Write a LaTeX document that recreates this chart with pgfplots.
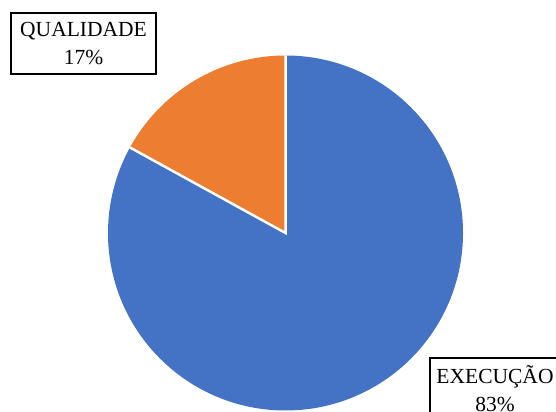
\documentclass[border=0pt]{standalone}
\usepackage{pgfplots}
\pgfplotsset{compat=1.18}
\usepackage{fontspec}
\setmainfont{Liberation Serif}
\definecolor{pieblue}{HTML}{4472C4}
\definecolor{pieorange}{HTML}{ED7D31}
% data (percent)
\def\valE{83}
\def\valQ{17}
\pgfmathsetmacro{\angE}{90-3.6*\valE}
\pgfmathsetmacro{\angQ}{90+3.6*\valQ}
\def\cx{285.5}
\def\cy{179}
\def\rr{177.5}
\begin{document}
\begin{tikzpicture}
\useasboundingbox (0,0) rectangle (556bp,412bp);
\clip (0,0) rectangle (556bp,412bp);
\begin{axis}[at={(0,0)},anchor=south west,scale only axis,
  width=556bp,height=412bp,xmin=0,xmax=556,ymin=0,ymax=412,
  hide axis,clip=false]
\fill[pieblue] (axis cs:\cx,\cy) -- (axis cs:\cx,356.5)
  arc[start angle=90,end angle=\angE,radius=\rr bp] -- cycle;
\fill[pieorange] (axis cs:\cx,\cy) -- (axis cs:\cx,356.5)
  arc[start angle=90,end angle=\angQ,radius=\rr bp] -- cycle;
\draw[white,line width=2.5bp] (axis cs:\cx,356.5) -- (axis cs:\cx,\cy)
  -- ++(\angQ:\rr bp);
\node[draw=black,line width=1.3bp,align=center,minimum width=145bp,
  minimum height=61bp,inner sep=0pt,
  font=\fontsize{21.5bp}{28bp}\selectfont] at (axis cs:83.5,368.5)
  {QUALIDADE\\17\%};
\node[draw=black,line width=1.3bp,align=center,minimum width=130bp,
  minimum height=61bp,inner sep=0pt,
  font=\fontsize{21.5bp}{28bp}\selectfont] at (axis cs:495,23.5)
  {EXECUÇÃO\\83\%};
\end{axis}
\end{tikzpicture}
\end{document}
